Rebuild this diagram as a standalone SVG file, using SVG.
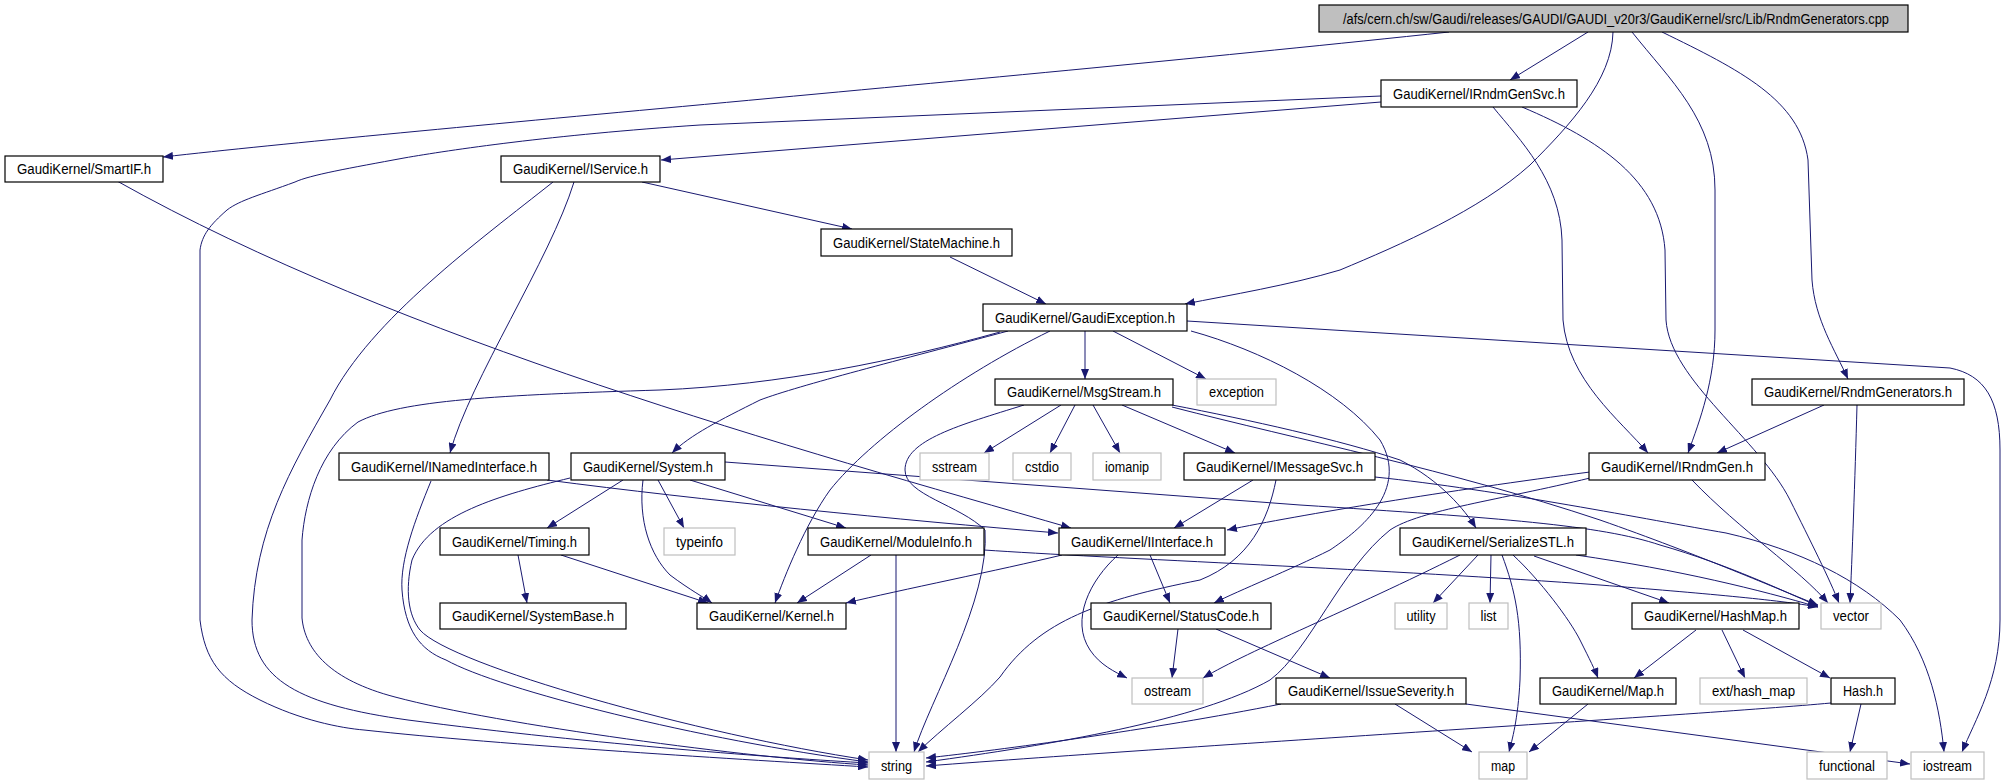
<svg xmlns="http://www.w3.org/2000/svg" width="2010" height="784" viewBox="0 0 2010 784">
<defs>
<marker id="ah" viewBox="0 0 10 8" refX="10" refY="4" markerWidth="10" markerHeight="8" markerUnits="userSpaceOnUse" orient="auto">
<path d="M0,0 L10,4 L0,8 z" fill="#191970"/>
</marker>
<style>
.n rect{fill:#ffffff;stroke:#000000;stroke-width:1.2}
.g rect{fill:#ffffff;stroke:#bfbfbf;stroke-width:1.2}
.r rect{fill:#bfbfbf;stroke:#000000;stroke-width:1.2}
text{font-family:"Liberation Sans","DejaVu Sans",sans-serif;font-size:14px;fill:#000000;text-anchor:middle}
#edges path{fill:none;stroke:#191970;stroke-width:1;marker-end:url(#ah)}
</style>
</defs>
<rect width="2010" height="784" fill="#ffffff"/>
<g id="edges">
<path d="M1449,32 C1000,80 400,130 163,157"/>
<path d="M1588,32 L1510,80"/>
<path d="M1613,32 C1612,80 1570,125 1530,165 C1480,210 1400,245 1340,270 C1290,285 1230,295 1185,304"/>
<path d="M1632,32 C1670,80 1715,120 1715,190 L1715,330 C1715,380 1700,420 1688,453"/>
<path d="M1662,32 C1740,70 1800,100 1808,160 L1812,280 C1815,320 1835,350 1848,379"/>
<path d="M1381,102 L661,160"/>
<path d="M1381,96 L700,125 C550,135 450,150 404,158 C350,168 310,175 295,182 C260,195 240,200 227,210 C210,225 202,235 200,250 L200,620 C205,660 220,680 260,700 C300,720 340,728 364,730 C500,745 750,760 868,767"/>
<path d="M1493,107 C1520,140 1560,180 1562,240 L1563,320 C1568,380 1620,420 1648,453"/>
<path d="M1522,107 C1600,140 1660,180 1665,250 L1666,320 C1670,380 1760,440 1790,500 C1810,540 1830,580 1839,603"/>
<path d="M117,181 C400,340 800,450 1071,528"/>
<path d="M574,182 C550,260 470,380 450,453"/>
<path d="M642,182 L852,229"/>
<path d="M553,182 C480,240 370,320 330,400 C290,470 255,530 252,620 C252,680 300,705 408,720 C600,745 780,758 868,763"/>
<path d="M950,257 L1046,304"/>
<path d="M1085,331 L1085,379"/>
<path d="M1113,331 L1206,379"/>
<path d="M1191,331 C1260,350 1340,390 1380,440 C1410,490 1360,530 1330,550 C1290,570 1240,590 1214,603"/>
<path d="M1050,331 C960,375 870,440 830,490 C805,525 785,575 775,603"/>
<path d="M1008,331 C900,360 800,385 760,400 C720,420 690,435 672,453"/>
<path d="M1000,332 C900,360 780,385 660,390 C500,395 400,400 358,422 C320,450 305,500 302,540 L302,618 C305,650 330,680 395,697 C500,725 750,758 868,765"/>
<path d="M1187,321 L1950,368 C1985,375 2000,400 2000,450 L2000,620 C2000,680 1975,720 1962,752"/>
<path d="M1061,405 L984,453"/>
<path d="M1075,405 L1050,453"/>
<path d="M1093,405 L1120,453"/>
<path d="M1122,405 L1235,453"/>
<path d="M1024,405 C960,425 905,440 905,470 C905,495 960,505 985,530 C990,600 930,700 914,752"/>
<path d="M1172,405 C1250,420 1340,440 1400,460 C1440,480 1465,510 1476,528"/>
<path d="M1172,407 C1300,440 1450,470 1600,520 C1700,555 1780,590 1818,605"/>
<path d="M1375,477 C1500,490 1650,520 1726,533 C1800,550 1860,580 1900,620 C1930,660 1940,710 1944,752"/>
<path d="M1253,480 L1174,528"/>
<path d="M1276,480 C1268,520 1250,560 1200,580 C1100,600 1040,620 1000,677 C980,700 940,730 918,752"/>
<path d="M431,481 C415,520 400,560 402,590 C405,630 420,650 446,660 C500,690 700,740 868,762"/>
<path d="M547,480 C700,500 900,520 1058,533"/>
<path d="M570,478 C500,495 430,515 412,560 C405,590 408,615 420,630 C450,665 700,735 868,760"/>
<path d="M623,480 L547,528"/>
<path d="M658,480 L684,528"/>
<path d="M690,480 L846,528"/>
<path d="M643,480 C638,520 650,555 670,575 C690,590 705,598 712,603"/>
<path d="M725,462 L1300,505 C1500,518 1600,525 1660,545 C1730,565 1785,592 1818,606"/>
<path d="M1590,472 C1450,490 1300,515 1227,530"/>
<path d="M1590,478 C1500,500 1420,510 1390,530 C1340,570 1310,650 1270,680 C1200,720 1050,745 926,762"/>
<path d="M1692,480 C1740,530 1800,570 1828,603"/>
<path d="M1824,405 L1717,453"/>
<path d="M1857,405 C1855,480 1852,560 1850,603"/>
<path d="M518,555 L527,603"/>
<path d="M561,555 L708,603"/>
<path d="M871,555 L797,603"/>
<path d="M896,555 L896,752"/>
<path d="M984,550 C1100,558 1400,570 1600,585 C1700,593 1780,600 1818,607"/>
<path d="M1150,555 L1170,603"/>
<path d="M1118,555 C1090,580 1070,620 1090,650 C1100,665 1115,672 1127,678"/>
<path d="M1062,555 C1000,570 900,590 846,603"/>
<path d="M1460,555 C1350,610 1250,650 1203,678"/>
<path d="M1478,555 L1433,603"/>
<path d="M1491,555 L1490,603"/>
<path d="M1502,555 C1515,590 1522,620 1520,680 C1518,720 1512,740 1509,752"/>
<path d="M1513,555 C1540,580 1570,620 1580,640 C1590,660 1595,670 1598,678"/>
<path d="M1534,556 L1669,603"/>
<path d="M1576,555 C1680,570 1760,590 1818,607"/>
<path d="M1216,629 L1330,678"/>
<path d="M1178,629 L1172,678"/>
<path d="M1696,630 L1634,678"/>
<path d="M1722,630 L1745,678"/>
<path d="M1743,630 L1830,678"/>
<path d="M1588,704 L1529,752"/>
<path d="M1861,704 L1850,752"/>
<path d="M1831,703 C1700,715 1200,745 926,766"/>
<path d="M1281,704 C1150,730 1000,750 926,758"/>
<path d="M1395,704 L1472,752"/>
<path d="M1466,704 L1910,764"/>
</g>
<g id="n_root" class="r"><rect x="1319" y="5" width="589" height="27"/><text x="1616" y="24" textLength="546" lengthAdjust="spacingAndGlyphs">/afs/cern.ch/sw/Gaudi/releases/GAUDI/GAUDI_v20r3/GaudiKernel/src/Lib/RndmGenerators.cpp</text></g>
<g id="n_IRndmGenSvc" class="n"><rect x="1381" y="80" width="196" height="27"/><text x="1479" y="99" textLength="172" lengthAdjust="spacingAndGlyphs">GaudiKernel/IRndmGenSvc.h</text></g>
<g id="n_SmartIF" class="n"><rect x="5" y="156" width="158" height="26"/><text x="84" y="174" textLength="134" lengthAdjust="spacingAndGlyphs">GaudiKernel/SmartIF.h</text></g>
<g id="n_IService" class="n"><rect x="501" y="156" width="159" height="26"/><text x="580.5" y="174" textLength="135" lengthAdjust="spacingAndGlyphs">GaudiKernel/IService.h</text></g>
<g id="n_StateMachine" class="n"><rect x="821" y="229" width="191" height="27"/><text x="916.5" y="248" textLength="167" lengthAdjust="spacingAndGlyphs">GaudiKernel/StateMachine.h</text></g>
<g id="n_GaudiException" class="n"><rect x="983" y="304" width="204" height="27"/><text x="1085" y="323" textLength="180" lengthAdjust="spacingAndGlyphs">GaudiKernel/GaudiException.h</text></g>
<g id="n_MsgStream" class="n"><rect x="995" y="379" width="178" height="26"/><text x="1084" y="397" textLength="154" lengthAdjust="spacingAndGlyphs">GaudiKernel/MsgStream.h</text></g>
<g id="n_exception" class="g"><rect x="1197" y="379" width="79" height="26"/><text x="1236.5" y="397" textLength="55" lengthAdjust="spacingAndGlyphs">exception</text></g>
<g id="n_RndmGenerators" class="n"><rect x="1752" y="379" width="212" height="26"/><text x="1858" y="397" textLength="188" lengthAdjust="spacingAndGlyphs">GaudiKernel/RndmGenerators.h</text></g>
<g id="n_INamedInterface" class="n"><rect x="339" y="453" width="210" height="27"/><text x="444" y="472" textLength="186" lengthAdjust="spacingAndGlyphs">GaudiKernel/INamedInterface.h</text></g>
<g id="n_System" class="n"><rect x="571" y="453" width="154" height="27"/><text x="648" y="472" textLength="130" lengthAdjust="spacingAndGlyphs">GaudiKernel/System.h</text></g>
<g id="n_sstream" class="g"><rect x="920" y="453" width="69" height="27"/><text x="954.5" y="472" textLength="45" lengthAdjust="spacingAndGlyphs">sstream</text></g>
<g id="n_cstdio" class="g"><rect x="1013" y="453" width="58" height="27"/><text x="1042" y="472" textLength="34" lengthAdjust="spacingAndGlyphs">cstdio</text></g>
<g id="n_iomanip" class="g"><rect x="1093" y="453" width="68" height="27"/><text x="1127" y="472" textLength="44" lengthAdjust="spacingAndGlyphs">iomanip</text></g>
<g id="n_IMessageSvc" class="n"><rect x="1184" y="453" width="191" height="27"/><text x="1279.5" y="472" textLength="167" lengthAdjust="spacingAndGlyphs">GaudiKernel/IMessageSvc.h</text></g>
<g id="n_IRndmGen" class="n"><rect x="1589" y="453" width="176" height="27"/><text x="1677" y="472" textLength="152" lengthAdjust="spacingAndGlyphs">GaudiKernel/IRndmGen.h</text></g>
<g id="n_Timing" class="n"><rect x="440" y="528" width="149" height="27"/><text x="514.5" y="547" textLength="125" lengthAdjust="spacingAndGlyphs">GaudiKernel/Timing.h</text></g>
<g id="n_typeinfo" class="g"><rect x="664" y="528" width="71" height="27"/><text x="699.5" y="547" textLength="47" lengthAdjust="spacingAndGlyphs">typeinfo</text></g>
<g id="n_ModuleInfo" class="n"><rect x="808" y="528" width="176" height="27"/><text x="896" y="547" textLength="152" lengthAdjust="spacingAndGlyphs">GaudiKernel/ModuleInfo.h</text></g>
<g id="n_IInterface" class="n"><rect x="1059" y="528" width="166" height="27"/><text x="1142" y="547" textLength="142" lengthAdjust="spacingAndGlyphs">GaudiKernel/IInterface.h</text></g>
<g id="n_SerializeSTL" class="n"><rect x="1400" y="528" width="186" height="27"/><text x="1493" y="547" textLength="162" lengthAdjust="spacingAndGlyphs">GaudiKernel/SerializeSTL.h</text></g>
<g id="n_SystemBase" class="n"><rect x="440" y="603" width="186" height="26"/><text x="533" y="621" textLength="162" lengthAdjust="spacingAndGlyphs">GaudiKernel/SystemBase.h</text></g>
<g id="n_Kernel" class="n"><rect x="697" y="603" width="149" height="26"/><text x="771.5" y="621" textLength="125" lengthAdjust="spacingAndGlyphs">GaudiKernel/Kernel.h</text></g>
<g id="n_StatusCode" class="n"><rect x="1091" y="603" width="180" height="26"/><text x="1181" y="621" textLength="156" lengthAdjust="spacingAndGlyphs">GaudiKernel/StatusCode.h</text></g>
<g id="n_utility" class="g"><rect x="1395" y="603" width="52" height="26"/><text x="1421" y="621" textLength="29" lengthAdjust="spacingAndGlyphs">utility</text></g>
<g id="n_list" class="g"><rect x="1469" y="603" width="39" height="26"/><text x="1488.5" y="621" textLength="16" lengthAdjust="spacingAndGlyphs">list</text></g>
<g id="n_HashMap" class="n"><rect x="1632" y="603" width="167" height="26"/><text x="1715.5" y="621" textLength="143" lengthAdjust="spacingAndGlyphs">GaudiKernel/HashMap.h</text></g>
<g id="n_vector" class="g"><rect x="1821" y="603" width="60" height="26"/><text x="1851" y="621" textLength="36" lengthAdjust="spacingAndGlyphs">vector</text></g>
<g id="n_ostream" class="g"><rect x="1132" y="678" width="71" height="26"/><text x="1167.5" y="696" textLength="47" lengthAdjust="spacingAndGlyphs">ostream</text></g>
<g id="n_IssueSeverity" class="n"><rect x="1276" y="678" width="190" height="26"/><text x="1371" y="696" textLength="166" lengthAdjust="spacingAndGlyphs">GaudiKernel/IssueSeverity.h</text></g>
<g id="n_Map" class="n"><rect x="1540" y="678" width="136" height="26"/><text x="1608" y="696" textLength="112" lengthAdjust="spacingAndGlyphs">GaudiKernel/Map.h</text></g>
<g id="n_ext_hash_map" class="g"><rect x="1700" y="678" width="107" height="26"/><text x="1753.5" y="696" textLength="83" lengthAdjust="spacingAndGlyphs">ext/hash_map</text></g>
<g id="n_Hash" class="n"><rect x="1831" y="678" width="64" height="26"/><text x="1863" y="696" textLength="40" lengthAdjust="spacingAndGlyphs">Hash.h</text></g>
<g id="n_string" class="g"><rect x="869" y="752" width="55" height="27"/><text x="896.5" y="771" textLength="31" lengthAdjust="spacingAndGlyphs">string</text></g>
<g id="n_map" class="g"><rect x="1479" y="752" width="48" height="27"/><text x="1503" y="771" textLength="24" lengthAdjust="spacingAndGlyphs">map</text></g>
<g id="n_functional" class="g"><rect x="1807" y="752" width="80" height="27"/><text x="1847" y="771" textLength="56" lengthAdjust="spacingAndGlyphs">functional</text></g>
<g id="n_iostream" class="g"><rect x="1911" y="752" width="73" height="27"/><text x="1947.5" y="771" textLength="49" lengthAdjust="spacingAndGlyphs">iostream</text></g>
</svg>
